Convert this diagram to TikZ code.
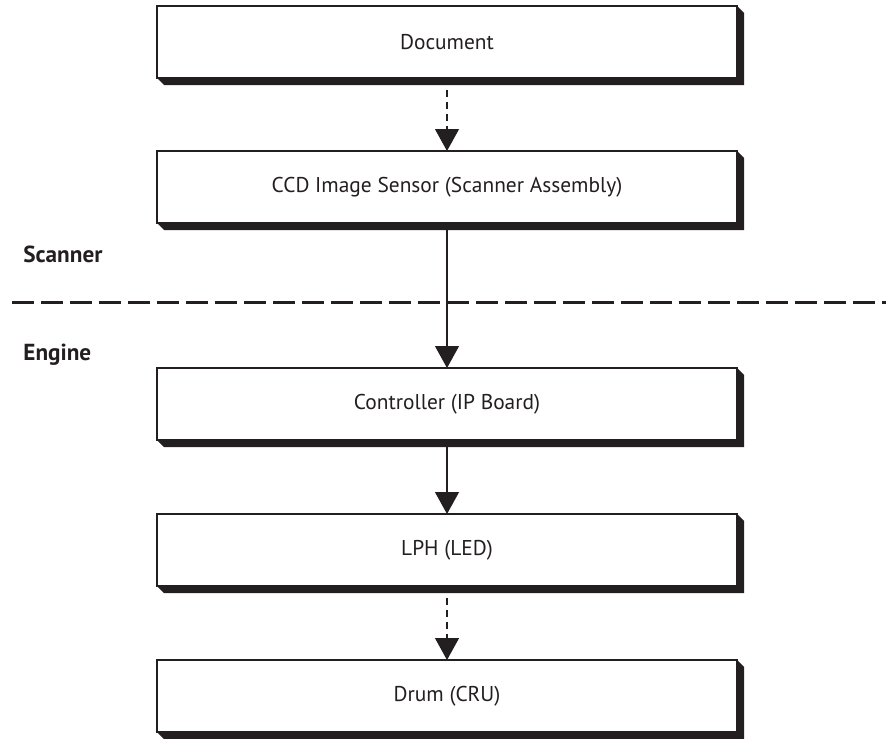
\documentclass[tikz,border=0pt]{standalone}
\usepackage{fontspec}
\setmainfont{PT Sans}
\usetikzlibrary{arrows.meta, positioning}

\definecolor{inkdark}{HTML}{231F20}

\begin{document}
\begin{tikzpicture}[
    x=0.5pt, y=0.5pt,
    every node/.style={align=center, font=\fontsize{10.7}{13}\selectfont, text=inkdark},
    unitbox/.style={rectangle, draw=inkdark, line width=0.6pt, fill=white, minimum width=290pt, minimum height=36pt, inner sep=0pt, outer sep=0pt},
    zone label/.style={anchor=west, inner sep=0pt, font=\fontsize{11.6}{14}\selectfont\bfseries},
    flow/.style={draw=inkdark, line width=0.6pt, -{Triangle[width=12pt, length=11pt]}},
    dashed flow/.style={flow, dash pattern=on 3.5pt off 2.5pt},
    divider/.style={draw=inkdark, line width=1.5pt, dash pattern=on 11pt off 3.5pt}
]
\useasboundingbox (0,0) rectangle (886,-738);

% Boxes
\node[unitbox] (doc) at (447,-42) {Document};
\node[unitbox, below=36.5pt of doc] (ccd) {CCD Image Sensor (Scanner Assembly)};
\node[unitbox, below=72.5pt of ccd] (ctrl) {Controller (IP Board)};
\node[unitbox, below=37pt of ctrl] (lph) {LPH (LED)};
\node[unitbox, below=37pt of lph] (drum) {Drum (CRU)};

% Shadows
\foreach \n in {doc, ccd, ctrl, lph, drum}
  \fill[inkdark] (\n.south west) -- ++(7,-7) -- ([shift={(7,-7)}]\n.south east)
    -- ([shift={(7,-7)}]\n.north east) -- (\n.north east) -- (\n.south east) -- cycle;

% Zones
\node[zone label] (scanner) at (23,-254) {Scanner};
\node[zone label] (engine) at (23,-355) {Engine};
\coordinate (divL) at (12,-302);
\coordinate (divR) at (886,-302);
\draw[divider] (divL) -- (divR);

% Connectors
\draw[dashed flow] (doc) -- (ccd);
\draw[flow] (ccd) -- (ctrl);
\draw[flow] (ctrl) -- (lph);
\draw[dashed flow] (lph) -- (drum);

\end{tikzpicture}
\end{document}
